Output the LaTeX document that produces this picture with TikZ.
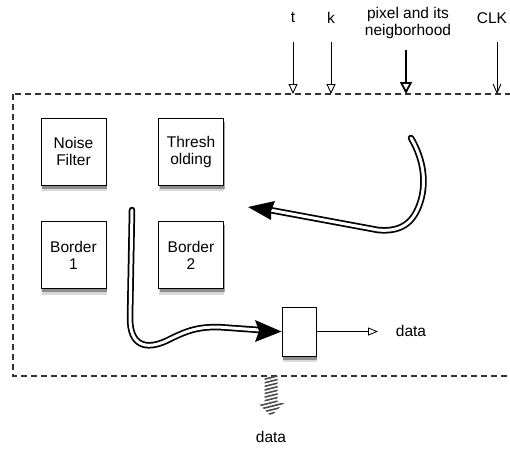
\documentclass[tikz,border=0pt]{standalone}
\usepackage{fontspec}
\setmainfont{Liberation Sans}
\usetikzlibrary{shadows,arrows.meta}
\begin{document}
\begin{tikzpicture}[x=1pt,y=-1pt,
  every node/.style={font=\fontsize{15.5}{17}\selectfont},
  blk/.style={draw=black,line width=1pt,fill=white,minimum width=65pt,minimum height=67pt,inner sep=0pt,align=center,
     drop shadow={shadow xshift=0.5pt,shadow yshift=-6pt,fill=black,opacity=0.15},
     drop shadow={shadow xshift=1pt,shadow yshift=-3.5pt,fill=black,opacity=0.35}},
  lbl/.style={inner sep=0pt,align=center},
  inarrow/.style={line width=0.9pt,-{Triangle[open,length=10pt,width=9pt]}},
  dbo/.style={line width=6.5pt,black,line cap=round},
  dbi/.style={line width=3pt,white,line cap=round},
  bordr/.style={dash pattern=on 6pt off 4pt,line width=1.1pt,black!80}]
\useasboundingbox (0,0) rectangle (510,459);
\clip (0,0) rectangle (510,459);
% frame
\draw[bordr] (13,94) rectangle (530,376);
% blocks
\node[blk] (nf) at (73.5,151.5) {Noise\\Filter};
\node[blk] (th) at (191,151.5) {Thresh\\olding};
\node[blk] (b1) at (73.5,255) {Border\\1};
\node[blk] (b2) at (191,255) {Border\\2};
\node[blk,minimum width=34pt,minimum height=49pt] (out) at (299,331.5) {};
% top inputs
\node[lbl] (t) at (293,18) {t};
\node[lbl] (k) at (331,18) {k};
\node[lbl] (px) at (408,23) {pixel and its\\neigborhood};
\node[lbl] (clk) at (492,18) {CLK};
\coordinate (ta) at (293,94);
\coordinate (ka) at (331,94);
\coordinate (pa) at (406,94);
\coordinate (ca) at (497,94);
\draw[inarrow] (293,42) -- (ta);
\draw[inarrow] (331,42) -- (ka);
\draw[line width=2.2pt,-{Triangle[open,length=12pt,width=12pt,line width=1.8pt]}] (406,50) -- (pa);
\draw[line width=0.9pt,-{Straight Barb[length=9pt,width=8pt]}] (497,42) -- (ca);
% output data
\node[lbl] (dout) at (411,331) {data};
\draw[line width=0.8pt,-{Triangle[open,length=10pt,width=8pt]}] (out.east) -- (378,331.5);
% bottom hatched arrow
\coordinate (hb) at (271,376);
\begin{scope}
\clip (264.5,376) -- (277.5,376) -- (277.5,403) -- (284,403) -- (271,416) -- (258,403) -- (264.5,403) -- cycle;
\foreach \i in {0,...,14} {
  \draw[line width=1.6pt,black!70] (250,372+3.6*\i) -- (290,362+3.6*\i);
}
\end{scope}
\node[lbl] (dbot) at (271,437) {data};
% feedback curve (right)
\draw[dbo] (411,138) .. controls (425,162) and (426,185) .. (420,203) .. controls (413,224) and (400,232) .. (378,230) -- (270,210);
\draw[dbi] (411,138) .. controls (425,162) and (426,185) .. (420,203) .. controls (413,224) and (400,232) .. (378,230) -- (268,209.6);
\fill (248,207) -- (275,201) -- (271,211) -- (271,220) -- cycle;
% curve to output
\draw[dbo] (132,210) -- (130,318) .. controls (130,346) and (146,350) .. (166,341) .. controls (186,331) and (196,327) .. (218,327) -- (260,330);
\draw[dbi] (132,210) -- (130,318) .. controls (130,346) and (146,350) .. (166,341) .. controls (186,331) and (196,327) .. (218,327) -- (262,330.2);
\fill (out.west) -- (255,320) -- (259,331) -- (255,342) -- cycle;
\end{tikzpicture}
\end{document}
